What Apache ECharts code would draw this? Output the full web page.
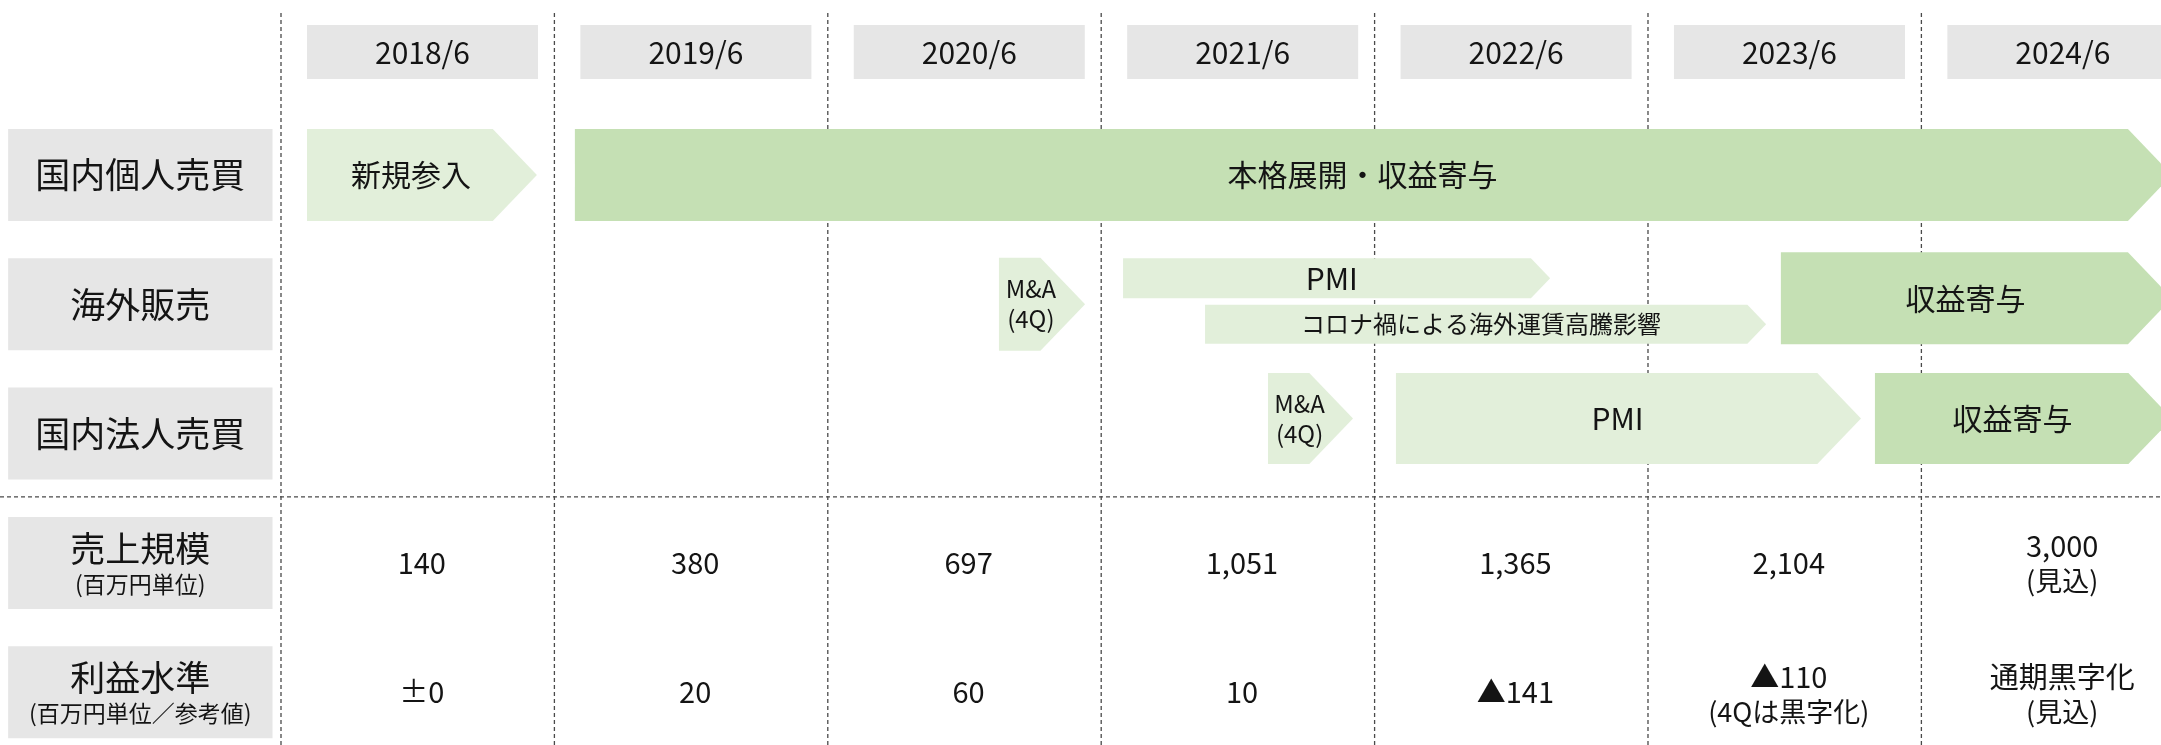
<!DOCTYPE html>
<html><head><meta charset="utf-8">
<script src="https://cdn.jsdelivr.net/npm/echarts@6/dist/echarts.min.js"></script>
<style>html,body{margin:0;padding:0;background:#fff}#chart{width:2161px;height:745px}</style>
</head><body><div id="chart"></div>
<script>
// ---------------- data ----------------
const periods = ['2018/6','2019/6','2020/6','2021/6','2022/6','2023/6','2024/6'];
const rowLabels = ['国内個人売買','海外販売','国内法人売買'];
const metricLabels = ['売上規模','利益水準'];
const metricUnits = ['(百万円単位)','(百万円単位／参考値)'];
const salesValues = ['140','380','697','1,051','1,365','2,104','3,000'];
const salesNotes = ['','','','','','','(見込)'];
const profitValues = ['±0','20','60','10','▲141','▲110','通期黒字化'];
const profitNotes = ['','','','','','(4Qは黒字化)','(見込)'];

// timeline phases (x in years from 2018/6 column start)
const arrowRow   = [0, 0, 1, 1, 1, 1, 2, 2, 2];
const arrowLabel = ['新規参入','本格展開・収益寄与','M&A\n(4Q)','PMI','コロナ禍による海外運賃高騰影響','収益寄与','M&A\n(4Q)','PMI','収益寄与'];
const arrowStart = [0.095, 1.075, 2.626, 3.080, 3.380, 5.486, 3.610, 4.078, 5.830];
const arrowEnd   = [0.936, 6.917, 2.941, 4.642, 5.432, 6.917, 3.921, 5.779, 6.917];
const arrowTone  = ['light','dark','light','light','light','dark','light','light','dark'];

// ---------------- layout / style ----------------
const X_MIN = -1.0278, X_MAX = 6.8764;
const Y_MIN = -0.3534, Y_MAX = 5.4084;
const HEADER_V = 0.049;
const FONT = '"Noto Sans CJK JP", "Noto Sans", sans-serif';
const INK = '#141414';
const GRAY = '#e6e6e6';
const TONES = {light:'#e2efda', dark:'#c5e0b4'};
const arrowLayout = [
  {dy:0,h:92},{dy:0,h:92},
  {dy:0,h:93},{dy:-26,h:40},{dy:20,h:39},{dy:-6,h:92},
  {dy:-15,h:91},{dy:-15,h:91},{dy:-15,h:91}
];
const DASH = {stroke:'#4a4a4a', lineWidth:1.3, lineDash:[4,3]};

function idx(arr){ return arr.map((_, i) => [i, 0]); }

function valueText(p, main, note, d1, d2){
  const kids = [];
  if (note) {
    kids.push({type:'text', style:{text:main, x:p[0], y:p[1]+d1, align:'center', verticalAlign:'middle',
      fontSize:29, fontFamily:FONT, fill:INK}});
    kids.push({type:'text', style:{text:note, x:p[0], y:p[1]+d2, align:'center', verticalAlign:'middle',
      fontSize:27, fontFamily:FONT, fill:INK}});
  } else {
    kids.push({type:'text', style:{text:main, x:p[0], y:p[1], align:'center', verticalAlign:'middle',
      fontSize:29, fontFamily:FONT, fill:INK}});
  }
  return {type:'group', children:kids};
}

const option = {
  animation: false,
  backgroundColor: '#ffffff',
  grid: {left:0, right:0, top:0, bottom:0, containLabel:false},
  xAxis: {type:'value', min:X_MIN, max:X_MAX, show:false},
  yAxis: {type:'value', min:Y_MIN, max:Y_MAX, inverse:true, show:false},
  series: [
    { // vertical dividers
      type:'custom', silent:true, z:1, data: idx(periods),
      renderItem(params, api){
        const i = params.dataIndex;
        const a = api.coord([i, Y_MIN + 13/129.3]);
        const b = api.coord([i, Y_MAX]);
        return {type:'line', shape:{x1:a[0], y1:a[1], x2:b[0], y2:b[1]}, style:DASH};
      }
    },
    { // horizontal divider between timeline and metrics
      type:'custom', silent:true, z:1, data:[[0,0]],
      renderItem(params, api){
        const a = api.coord([X_MIN, 3.49]);
        const b = api.coord([X_MAX, 3.49]);
        return {type:'line', shape:{x1:a[0], y1:a[1], x2:b[0], y2:b[1]}, style:DASH};
      }
    },
    { // header boxes
      type:'custom', silent:true, z:2, data: idx(periods),
      renderItem(params, api){
        const i = params.dataIndex;
        const a = api.coord([i + 0.095, HEADER_V]);
        const b = api.coord([i + 0.940, HEADER_V]);
        const h = 54;
        return {type:'group', children:[
          {type:'rect', shape:{x:a[0], y:a[1]-h/2, width:b[0]-a[0], height:h}, style:{fill:GRAY}},
          {type:'text', style:{text:periods[i], x:(a[0]+b[0])/2, y:a[1]+1, align:'center', verticalAlign:'middle',
            fontSize:30, fontFamily:FONT, fill:INK}}
        ]};
      }
    },
    { // row label boxes
      type:'custom', silent:true, z:2, data: idx(rowLabels.concat(metricLabels)),
      renderItem(params, api){
        const i = params.dataIndex;
        const a = api.coord([-0.998, i + 1]);
        const b = api.coord([-0.031, i + 1]);
        const h = 92, cx = (a[0]+b[0])/2;
        const kids = [{type:'rect', shape:{x:a[0], y:a[1]-h/2, width:b[0]-a[0], height:h}, style:{fill:GRAY}}];
        if (i < rowLabels.length) {
          kids.push({type:'text', style:{text:rowLabels[i], x:cx, y:a[1], align:'center', verticalAlign:'middle',
            fontSize:35, fontFamily:FONT, fill:INK}});
        } else {
          const m = i - rowLabels.length;
          kids.push({type:'text', style:{text:metricLabels[m], x:cx, y:a[1]-14, align:'center', verticalAlign:'middle',
            fontSize:35, fontFamily:FONT, fill:INK}});
          kids.push({type:'text', style:{text:metricUnits[m], x:cx, y:a[1]+21, align:'center', verticalAlign:'middle',
            fontSize:23, fontFamily:FONT, fill:INK}});
        }
        return {type:'group', children:kids};
      }
    },
    { // timeline arrows
      type:'custom', silent:true, z:3, data: idx(arrowLabel),
      renderItem(params, api){
        const i = params.dataIndex;
        const L = arrowLayout[i];
        const p0 = api.coord([arrowStart[i], arrowRow[i] + 1]);
        const p1 = api.coord([arrowEnd[i], arrowRow[i] + 1]);
        const cy = p0[1] + L.dy, h = L.h, d = h * 0.48;
        const x0 = p0[0], x2 = p1[0], x1 = x2 - d;
        const lab = arrowLabel[i];
        const fs = lab.indexOf('\n') >= 0 ? 24 : (lab.length > 10 ? 24 : 30);
        return {type:'group', children:[
          {type:'polygon', shape:{points:[[x0,cy-h/2],[x1,cy-h/2],[x2,cy],[x1,cy+h/2],[x0,cy+h/2]]},
            style:{fill:TONES[arrowTone[i]]}},
          {type:'text', style:{text:lab, x:(x0+x2)/2 - d/4, y:cy, align:'center', verticalAlign:'middle',
            fontSize:fs, lineHeight:30, fontFamily:FONT, fill:INK}}
        ]};
      }
    },
    { // metric values (sales row)
      type:'custom', silent:true, z:3, data: idx(salesValues),
      renderItem(params, api){
        const i = params.dataIndex;
        const p = api.coord([i + 0.515, 4]);
        return valueText(p, salesValues[i], salesNotes[i], -17, 18);
      }
    },
    { // metric values (profit row)
      type:'custom', silent:true, z:3, data: idx(profitValues),
      renderItem(params, api){
        const i = params.dataIndex;
        const p = api.coord([i + 0.515, 5]);
        return valueText(p, profitValues[i], profitNotes[i], -15, 20);
      }
    }
  ]
};

const chart = echarts.init(document.getElementById('chart'), null, {renderer:'canvas', width:2161, height:745});
chart.setOption(option);
</script>
</body></html>
